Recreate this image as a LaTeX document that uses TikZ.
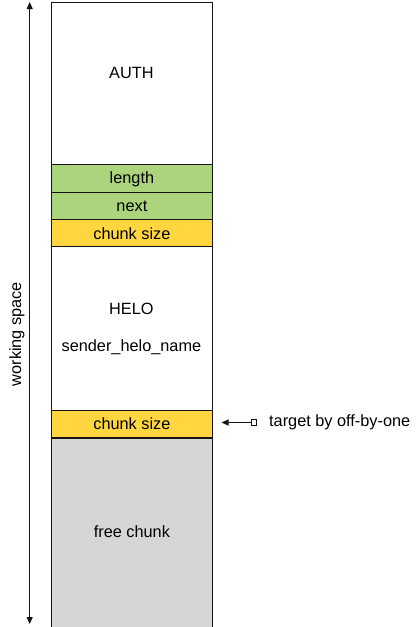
\documentclass[tikz,border=0pt]{standalone}
\usepackage{fontspec}
\setmainfont{Liberation Sans}
\usetikzlibrary{arrows.meta}
\definecolor{cgreen}{RGB}{171,212,125}
\definecolor{cyellow}{RGB}{255,214,64}
\definecolor{cgray}{RGB}{214,214,214}
\definecolor{cline}{RGB}{20,20,20}
\begin{document}
\begin{tikzpicture}[x=1pt,y=-1pt,
  seg/.style={draw=cline, line width=1pt, minimum width=161.8pt, inner sep=0pt, anchor=north west, font=\fontsize{16.3}{19}\selectfont},
  lbl/.style={inner sep=0pt, font=\fontsize{16.3}{19}\selectfont},
  arr/.style={draw=cline, line width=0.9pt, -{Triangle[length=7pt,width=6pt]}}]
\useasboundingbox (0,0) rectangle (417,627);
\node[seg, minimum height=162.8pt] (auth) at (50.5,1.5) {};
\node[lbl] (autht) at (131.4,73) {AUTH};
\node[seg, fill=cgreen, minimum height=28pt] (len) at (50.5,164.3) {length};
\node[seg, fill=cgreen, minimum height=27pt] (next) at (50.5,192.3) {next};
\node[seg, fill=cyellow, minimum height=27pt] (cs1) at (50.5,219.3) {chunk size};
\node[seg, minimum height=163.4pt] (helo) at (50.5,246.3) {};
\node[lbl] (helot) at (131.4,309) {HELO};
\node[lbl] (sender) at (131.4,347) {sender\_helo\_name};
\node[seg, fill=cgray, minimum height=190pt] (free) at (50.5,436.5) {free chunk};
\node[seg, fill=cyellow, minimum height=27pt] (cs2) at (50.5,409.7) {chunk size};
\draw[cline, line width=2pt] (cs2.south west) -- (cs2.south east);
% working space arrow
\coordinate (wtop) at (29.7,2);
\coordinate (wbot) at (29.7,624);
\draw[arr, {Triangle[length=7pt,width=6pt]}-{Triangle[length=7pt,width=6pt]}] (wtop) -- (wbot);
\node[lbl, rotate=90] (ws) at (17,334) {working space};
% target arrow
\node[draw=cline, line width=0.9pt, minimum size=5.5pt, inner sep=0pt] (sq) at (254,422.5) {};
\coordinate (tip) at (221.5,422.5);
\draw[arr] (sq.west) -- (tip);
\node[lbl, anchor=west] (tgt) at (269,422) {target by off-by-one};
\end{tikzpicture}
\end{document}
